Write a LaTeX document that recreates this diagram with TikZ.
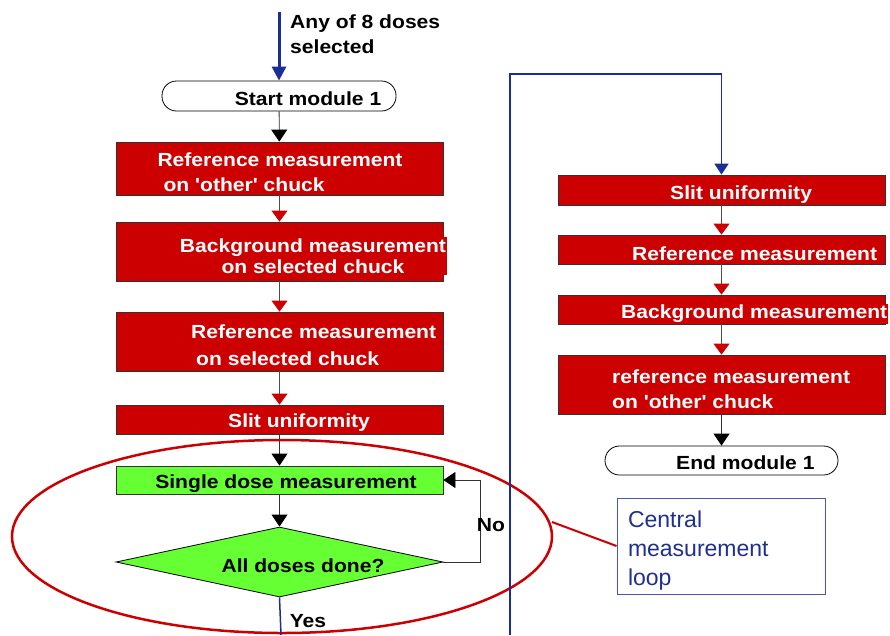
\documentclass[tikz,border=0pt]{standalone}
\usepackage{fontspec}
\setmainfont{Liberation Sans}
\newfontfamily\boxfont[FakeStretch=1.11]{Liberation Sans}
\usetikzlibrary{arrows.meta,shapes.geometric}

\definecolor{boxred}{HTML}{CC0000}
\definecolor{dosegreen}{HTML}{66FF33}
\definecolor{loopblue}{HTML}{1A2E96}
\definecolor{notetext}{HTML}{1F2F8F}

\begin{document}
\begin{tikzpicture}[x=1pt,y=-1pt,
  box/.style={draw=black!80,line width=0.8pt,fill=boxred,minimum width=327pt,inner sep=0pt},
  term/.style={draw=black,line width=0.8pt,rounded corners=14.5pt,minimum width=234pt,minimum height=30pt,inner sep=0pt},
  lbl/.style={font=\boxfont\bfseries\fontsize{19}{25}\selectfont,inner xsep=1pt,inner ysep=1.5pt},
  boxtxt/.style={lbl,fill=boxred,text=white},
  redflow/.style={draw=black!70,line width=0.8pt,-{Triangle[width=16pt,length=11pt,color=boxred]}},
  blackflow/.style={draw=black!80,line width=0.8pt,-{Triangle[width=16pt,length=12pt,color=black]}},
  bluepath/.style={draw=loopblue,line width=1.5pt}
]
  \useasboundingbox (0,0) rectangle (890,635);

  % ===== Left column =====
  \coordinate (intop) at (279,12);
  \node[lbl,anchor=west,align=left] (seltxt) at (289,34) {Any of 8 doses\\selected};
  \node[term] (start) at (279,96) {};
  \node[lbl] (t_start) at (308,99) {Start module 1};

  \node[box,minimum height=53pt] (ref1) at (279.5,168.5) {};
  \node[box,minimum height=59pt] (bg1) at (279.5,251.5) {};
  \node[box,minimum height=59pt] (ref2) at (279.5,341.5) {};
  \node[box,minimum height=29pt] (slit1) at (279.5,419.5) {};
  \node[box,minimum height=28pt,fill=dosegreen] (dose) at (279.5,480) {};
  \node[diamond,draw=black,line width=0.8pt,fill=dosegreen,minimum width=327pt,minimum height=70pt,inner sep=0pt] (dec) at (279.5,562) {};

  \node[boxtxt,align=left] (t_ref1) at (280,172) {Reference measurement\\\hspace*{6pt}on 'other' chuck};
  \node[boxtxt,align=center] (t_bg1) at (313,256) {Background measurement\\[-4pt]on selected chuck};
  \node[boxtxt,anchor=west,align=left] (t_ref2) at (190,345) {Reference measurement\\[2pt]\hspace*{5pt}on selected chuck};
  \node[boxtxt,anchor=west] (t_slit1) at (227,423) {Slit uniformity};
  \node[lbl,fill=dosegreen] (t_dose) at (286,484) {Single dose measurement};
  \node[lbl] (t_dec) at (303,566) {All doses done?};

  % ===== Right column =====
  \node[box,minimum height=30pt] (slit2) at (721.5,190) {};
  \node[box,minimum height=29pt] (ref3) at (721.5,249.5) {};
  \node[box,minimum height=29pt] (bg2) at (721.5,309.5) {};
  \node[box,minimum height=59pt] (ref4) at (721.5,384.5) {};
  \node[term,minimum width=233pt,minimum height=29pt] (end) at (721.5,460.5) {};

  \node[boxtxt,anchor=west] (t_slit2) at (669,195) {Slit uniformity};
  \node[boxtxt,anchor=west] (t_ref3) at (631,254) {Reference measurement};
  \node[boxtxt,anchor=west] (t_bg2) at (620,314) {Background measurement};
  \node[boxtxt,anchor=west,align=left] (t_ref4) at (611,389) {reference measurement\\on 'other' chuck};
  \node[lbl,anchor=west] (t_end) at (675,463) {End module 1};

  % ===== Flow =====
  \draw[draw=loopblue,line width=3pt,-{Triangle[width=14pt,length=14pt]}] (intop) -- (start);
  \draw[blackflow] (start) -- (ref1);
  \draw[redflow] (ref1) -- (bg1);
  \draw[redflow] (bg1) -- (ref2);
  \draw[redflow] (ref2) -- (slit1);
  \draw[blackflow] (slit1) -- (dose);
  \draw[blackflow] (dose) -- (dec);
  \draw[blackflow] (dec.east) -- ++(37,0) |- (dose.east);
  \node[lbl] (nolbl) at (491,525) {No};

  \draw[redflow] (slit2) -- (ref3);
  \draw[redflow] (ref3) -- (bg2);
  \draw[redflow] (bg2) -- (ref4);
  \draw[blackflow] (ref4) -- (end);

  % ===== Loop highlight =====
  \draw[boxred,line width=2.5pt] (282,536.5) ellipse [x radius=270, y radius=96.5];
  \coordinate (ellR) at (552,522);
  \node[draw=loopblue!80,line width=1pt,minimum width=208pt,minimum height=96pt] (note) at (721,546) {};
  \node[text width=188pt,align=left,text=notetext,inner sep=0pt,
        font=\fontsize{23}{29}\selectfont] (t_note) at (722,551) {Central\\measurement\\loop};
  \draw[boxred,line width=2pt] (ellR) -- (note.west);

  % ===== Exit and return path =====
  \coordinate (yesend) at (281,635);
  \draw[bluepath] (dec.south) -- (yesend);
  \node[lbl] (yeslbl) at (308,621) {Yes};
  \coordinate (loopbot) at (510,635);
  \coordinate (looptop) at (510,74);
  \draw[bluepath,line width=1.8pt,-{Triangle[width=14pt,length=11pt]}] (loopbot) -- (looptop) -| (slit2.north);
\end{tikzpicture}
\end{document}
